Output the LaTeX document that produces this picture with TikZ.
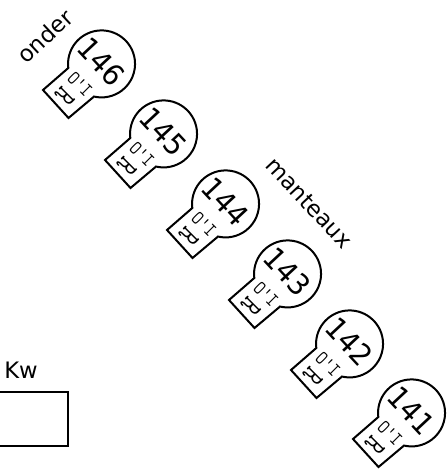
\documentclass[tikz,border=0pt]{standalone}
\usepackage{fontspec}
\setmainfont{DejaVu Sans}
\tikzset{
  px/.style={x=0.75pt,y=-0.75pt},
  outl/.style={draw=black,line width=1.5pt,line join=miter},
  numlab/.style={font=\fontsize{22}{22}\selectfont,rotate=-47,inner sep=0},
  smalllab/.style={font=\ttfamily\fontsize{15}{15}\selectfont,rotate=-45,inner sep=0},
  bigr/.style={font=\ttfamily\fontsize{24}{24}\selectfont,rotate=225,inner sep=0},
  plainlab/.style={font=\fontsize{17}{17}\selectfont,inner sep=0},
}
\begin{document}
\begin{tikzpicture}[px]
\useasboundingbox (0,0) rectangle (446,473);
\foreach \cx/\cy/\n in {102/64/146,164/134/145,226/204/144,288/274/143,350/344/142,412/413/141}{
  \begin{scope}[shift={(\cx,\cy)}]
    \draw[outl,fill=white] (-33.7,4)
      arc[start angle=173,end angle=463,radius=33.5]
      -- (-33.5,54) -- (-59,26) -- (-33.7,4) -- cycle;
    \node[numlab] (n\n) at (-0.5,-2) {\scalebox{.95}[1]{\n}};
    \node[smalllab] (a\n) at (-22,20) {\scalebox{.85}[1]{O'I}};
    \node[bigr] (b\n) at (-37,32) {\scalebox{.72}[1]{R}};
  \end{scope}
}
\node[plainlab,rotate=43] (onder) at (45,36) {onder};
\node[plainlab,rotate=-47] (mant) at (309,203) {manteaux};
\node[plainlab,anchor=west] (kw) at (4,370) {Kw};
\draw[line width=1.3pt] (0,392) -- (68,392) -- (68,446) -- (0,446);
\end{tikzpicture}
\end{document}
